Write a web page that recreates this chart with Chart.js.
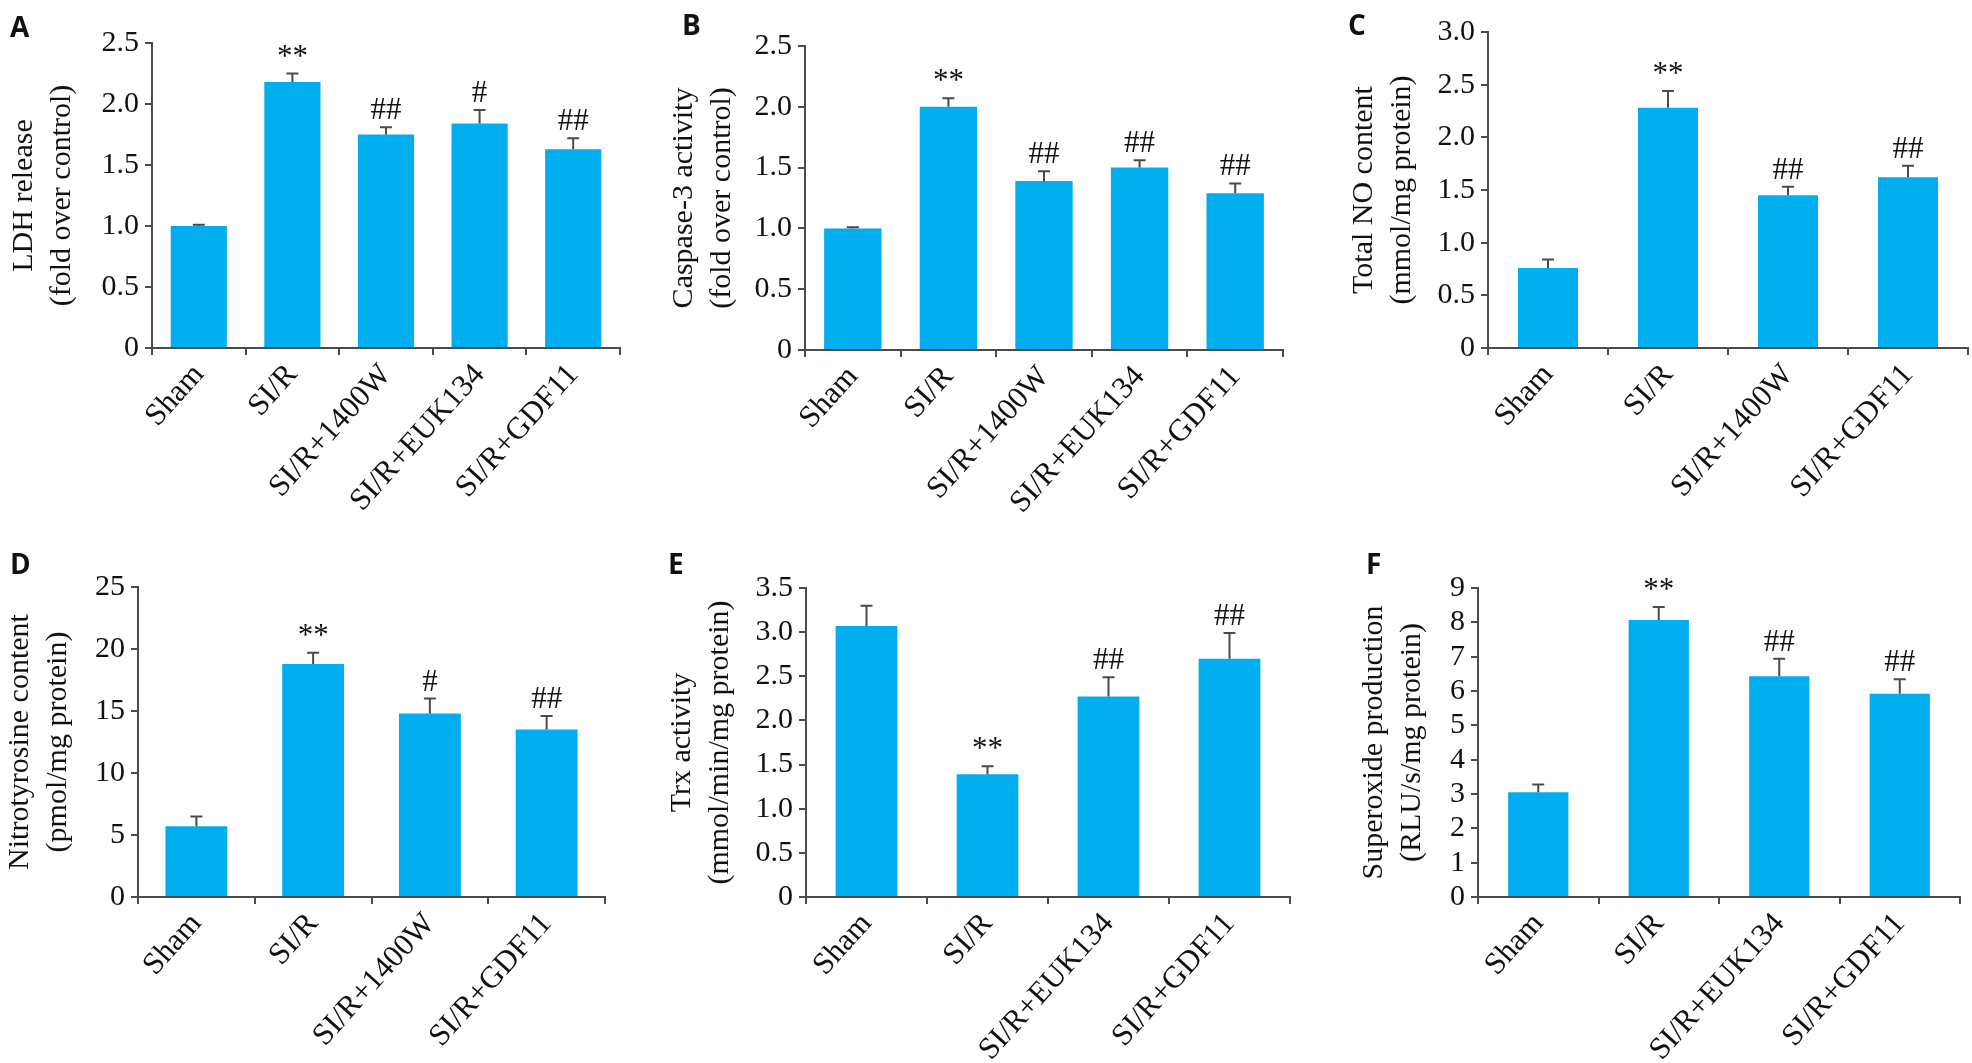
<!DOCTYPE html>
<html>
<head>
<meta charset="utf-8">
<script src="https://cdn.jsdelivr.net/npm/chart.js@4.4.1/dist/chart.umd.min.js"></script>
<style>
  body { margin: 0; background: #fff; }
  #page { position: relative; width: 1972px; height: 1063px; overflow: hidden; }
  .panel { position: absolute; }
  .letter { position: absolute; font-family: "Open Sans", sans-serif; font-weight: 700; font-size: 28px; line-height: 28px; color: #111; }
</style>
</head>
<body>
<div id="page"></div>
<script>
// categories
const groups5 = ['Sham', 'SI/R', 'SI/R+1400W', 'SI/R+EUK134', 'SI/R+GDF11'];
const groupsNO = ['Sham', 'SI/R', 'SI/R+1400W', 'SI/R+GDF11'];
const groupsEUK = ['Sham', 'SI/R', 'SI/R+EUK134', 'SI/R+GDF11'];

// A - LDH release
const ldhMean = [1.0, 2.18, 1.75, 1.84, 1.63];
const ldhSem = [0.01, 0.07, 0.06, 0.11, 0.09];
const ldhMarks = ['', '**', '##', '#', '##'];

// B - caspase-3
const caspMean = [1.0, 2.0, 1.39, 1.50, 1.29];
const caspSem = [0.01, 0.07, 0.08, 0.06, 0.08];
const caspMarks = ['', '**', '##', '##', '##'];

// C - total NO
const noMean = [0.76, 2.28, 1.45, 1.62];
const noSem = [0.08, 0.16, 0.08, 0.11];
const noMarks = ['', '**', '##', '##'];

// D - nitrotyrosine
const nitroMean = [5.7, 18.8, 14.8, 13.5];
const nitroSem = [0.8, 0.9, 1.2, 1.1];
const nitroMarks = ['', '**', '#', '##'];

// E - Trx activity
const trxMean = [3.07, 1.39, 2.27, 2.70];
const trxSem = [0.23, 0.09, 0.22, 0.29];
const trxMarks = ['', '**', '##', '##'];

// F - superoxide
const supMean = [3.05, 8.07, 6.43, 5.92];
const supSem = [0.23, 0.38, 0.51, 0.42];
const supMarks = ['', '**', '##', '##'];

const serif = 'Liberation Serif';
const axisColor = '#4a4a4a';

// error bars + significance marks
const errorMarks = {
  id: 'errorMarks',
  afterDatasetsDraw(chart, args, opts) {
    const ctx = chart.ctx;
    const y = chart.scales.y;
    const meta = chart.getDatasetMeta(0);
    const vals = chart.data.datasets[0].data;
    ctx.save();
    meta.data.forEach((bar, i) => {
      const top = y.getPixelForValue(vals[i] + opts.sem[i]);
      const base = y.getPixelForValue(vals[i]);
      ctx.strokeStyle = axisColor;
      ctx.lineWidth = 2;
      ctx.beginPath();
      ctx.moveTo(bar.x, base);
      ctx.lineTo(bar.x, top);
      ctx.moveTo(bar.x - 6, top);
      ctx.lineTo(bar.x + 6, top);
      ctx.stroke();
      if (opts.marks[i]) {
        ctx.fillStyle = '#111';
        ctx.font = '31px "' + serif + '"';
        ctx.textAlign = 'center';
        ctx.textBaseline = 'alphabetic';
        ctx.fillText(opts.marks[i], bar.x, top - 8);
      }
    });
    ctx.restore();
  }
};

function makePanel(p) {
  const page = document.getElementById('page');
  const W = p.right - p.left + 4;
  const div = document.createElement('div');
  div.className = 'panel';
  div.style.left = p.left + 'px';
  div.style.top = p.top + 'px';
  div.style.width = W + 'px';
  div.style.height = p.height + 'px';
  const canvas = document.createElement('canvas');
  div.appendChild(canvas);
  page.appendChild(div);

  const letter = document.createElement('div');
  letter.className = 'letter';
  letter.textContent = p.letter;
  letter.style.left = p.letterX + 'px';
  letter.style.top = p.letterY + 'px';
  page.appendChild(letter);

  new Chart(canvas, {
    type: 'bar',
    data: {
      labels: p.labels,
      datasets: [{
        data: p.values,
        backgroundColor: '#00aeef',
        borderWidth: 0,
        barPercentage: p.barPct,
        categoryPercentage: 1
      }]
    },
    options: {
      responsive: true,
      maintainAspectRatio: false,
      animation: false,
      layout: { padding: { top: p.plotTop - p.top, right: 4, left: 0, bottom: 0 } },
      plugins: {
        legend: { display: false },
        tooltip: { enabled: false },
        errorMarks: { sem: p.sem, marks: p.marks }
      },
      scales: {
        x: {
          grid: { drawOnChartArea: false, tickLength: 7, color: axisColor, lineWidth: 2 },
          border: { color: axisColor, width: 2 },
          ticks: {
            color: '#111', font: { family: serif, size: 31 },
            maxRotation: 48, minRotation: 48, autoSkip: false, padding: 2
          },
          afterFit(scale) { scale.height = p.top + p.height - p.plotBottom; }
        },
        y: {
          min: 0, max: p.max,
          grid: { drawOnChartArea: false, tickLength: 7, color: axisColor, lineWidth: 2 },
          border: { color: axisColor, width: 2 },
          ticks: {
            stepSize: p.step, padding: 6, color: '#111', autoSkip: false,
            font: { family: serif, size: 30 },
            callback: v => (v === 0 ? '0' : (p.step < 1 ? v.toFixed(1) : String(v)))
          },
          title: {
            display: true, text: p.title, color: '#111',
            font: { family: serif, size: 30, lineHeight: 38 / 30 },
            padding: { top: 0, bottom: 0 }
          },
          afterFit(scale) { scale.width = p.axisX - p.left; }
        }
      }
    },
    plugins: [errorMarks]
  });
}

makePanel({ letter: 'A', letterX: 10, letterY: 12, left: 5, axisX: 152, right: 620, top: 0, height: 540,
  plotTop: 43, plotBottom: 348, labels: groups5, values: ldhMean, sem: ldhSem, marks: ldhMarks,
  max: 2.5, step: 0.5, barPct: 0.6, title: ['LDH release', '(fold over control)'] });

makePanel({ letter: 'B', letterX: 682, letterY: 10, left: 665, axisX: 805, right: 1283, top: 0, height: 540,
  plotTop: 46, plotBottom: 350, labels: groups5, values: caspMean, sem: caspSem, marks: caspMarks,
  max: 2.5, step: 0.5, barPct: 0.6, title: ['Caspase-3 activity', '(fold over control)'] });

makePanel({ letter: 'C', letterX: 1348, letterY: 10, left: 1345, axisX: 1488, right: 1968, top: 0, height: 540,
  plotTop: 32, plotBottom: 348, labels: groupsNO, values: noMean, sem: noSem, marks: noMarks,
  max: 3.0, step: 0.5, barPct: 0.5, title: ['Total NO content', '(mmol/mg protein)'] });

makePanel({ letter: 'D', letterX: 10, letterY: 549, left: 1, axisX: 138, right: 605, top: 545, height: 518,
  plotTop: 587, plotBottom: 897, labels: groupsNO, values: nitroMean, sem: nitroSem, marks: nitroMarks,
  max: 25, step: 5, barPct: 0.53, title: ['Nitrotyrosine content', '(pmol/mg protein)'] });

makePanel({ letter: 'E', letterX: 668, letterY: 549, left: 663, axisX: 806, right: 1290, top: 545, height: 518,
  plotTop: 588, plotBottom: 897, labels: groupsEUK, values: trxMean, sem: trxSem, marks: trxMarks,
  max: 3.5, step: 0.5, barPct: 0.51, title: ['Trx activity', '(mmol/min/mg protein)'] });

makePanel({ letter: 'F', letterX: 1366, letterY: 549, left: 1355, axisX: 1478, right: 1960, top: 545, height: 518,
  plotTop: 588, plotBottom: 897, labels: groupsEUK, values: supMean, sem: supSem, marks: supMarks,
  max: 9, step: 1, barPct: 0.5, title: ['Superoxide production', '(RLU/s/mg protein)'] });
</script>
</body>
</html>
